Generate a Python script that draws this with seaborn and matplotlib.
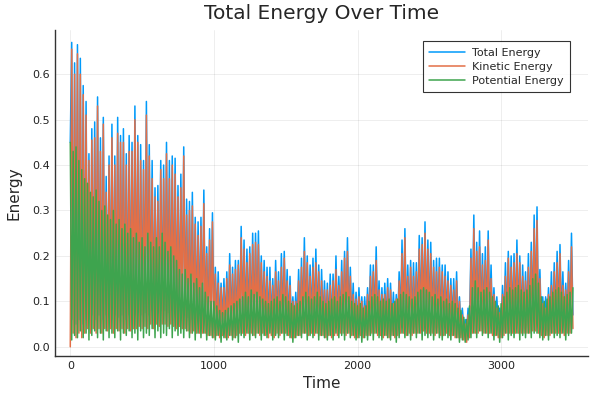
import numpy as np
import pandas as pd
import matplotlib
matplotlib.use("Agg")
import matplotlib.pyplot as plt
import seaborn as sns

# time axis, one sample every 10 time units (0 ... 3500)
time = np.arange(0, 3501, 10)

# total energy (rows of 100 time units)
total = [
    0.45, 0.67, 0.06, 0.625, 0.05, 0.665, 0.06, 0.635, 0.05, 0.575,
    0.06, 0.54, 0.07, 0.425, 0.06, 0.48, 0.07, 0.495, 0.06, 0.55,
    0.07, 0.46, 0.06, 0.505, 0.07, 0.375, 0.065, 0.42, 0.07, 0.49,
    0.06, 0.42, 0.07, 0.505, 0.065, 0.465, 0.07, 0.48, 0.06, 0.425,
    0.07, 0.465, 0.065, 0.45, 0.07, 0.53, 0.07, 0.465, 0.075, 0.445,
    0.07, 0.41, 0.075, 0.54, 0.07, 0.445, 0.08, 0.41, 0.07, 0.35,
    0.08, 0.355, 0.075, 0.41, 0.08, 0.40, 0.08, 0.45, 0.075, 0.41,
    0.08, 0.42, 0.075, 0.415, 0.07, 0.355, 0.075, 0.38, 0.07, 0.44,
    0.07, 0.325, 0.065, 0.32, 0.06, 0.34, 0.065, 0.285, 0.06, 0.275,
    0.06, 0.285, 0.06, 0.345, 0.06, 0.22, 0.055, 0.26, 0.055, 0.295,
    0.05, 0.175, 0.055, 0.165, 0.05, 0.14, 0.055, 0.15, 0.05, 0.165,
    0.05, 0.205, 0.055, 0.175, 0.05, 0.19, 0.055, 0.19, 0.06, 0.265,
    0.06, 0.235, 0.055, 0.215, 0.06, 0.22, 0.06, 0.25, 0.055, 0.25,
    0.06, 0.255, 0.055, 0.20, 0.06, 0.19, 0.055, 0.175, 0.05, 0.175,
    0.055, 0.15, 0.05, 0.19, 0.06, 0.165, 0.055, 0.205, 0.06, 0.21,
    0.06, 0.17, 0.055, 0.155, 0.05, 0.11, 0.05, 0.12, 0.055, 0.17,
    0.055, 0.195, 0.06, 0.24, 0.06, 0.20, 0.055, 0.18, 0.06, 0.195,
    0.055, 0.215, 0.06, 0.18, 0.055, 0.17, 0.055, 0.145, 0.05, 0.14,
    0.055, 0.16, 0.05, 0.16, 0.055, 0.20, 0.055, 0.155, 0.06, 0.19,
    0.06, 0.21, 0.055, 0.24, 0.06, 0.175, 0.055, 0.14, 0.05, 0.12,
    0.05, 0.13, 0.055, 0.11, 0.05, 0.11, 0.055, 0.13, 0.055, 0.18,
    0.06, 0.18, 0.06, 0.22, 0.055, 0.145, 0.055, 0.13, 0.05, 0.14,
    0.055, 0.15, 0.05, 0.14, 0.055, 0.12, 0.05, 0.115, 0.055, 0.165,
    0.06, 0.235, 0.06, 0.26, 0.055, 0.18, 0.06, 0.19, 0.055, 0.185,
    0.06, 0.185, 0.06, 0.245, 0.06, 0.24, 0.065, 0.275, 0.06, 0.235,
    0.06, 0.23, 0.06, 0.19, 0.055, 0.195, 0.06, 0.195, 0.055, 0.18,
    0.055, 0.18, 0.06, 0.165, 0.055, 0.15, 0.055, 0.15, 0.05, 0.165,
    0.045, 0.11, 0.045, 0.085, 0.04, 0.06, 0.035, 0.085, 0.05, 0.215,
    0.06, 0.29, 0.06, 0.23, 0.06, 0.255, 0.065, 0.205, 0.06, 0.22,
    0.06, 0.255, 0.06, 0.18, 0.055, 0.13, 0.055, 0.11, 0.05, 0.085,
    0.05, 0.135, 0.055, 0.185, 0.06, 0.21, 0.06, 0.20, 0.06, 0.205,
    0.06, 0.235, 0.06, 0.20, 0.06, 0.18, 0.06, 0.165, 0.06, 0.205,
    0.06, 0.23, 0.065, 0.29, 0.065, 0.308, 0.06, 0.17, 0.055, 0.11,
    0.05, 0.11, 0.055, 0.13, 0.055, 0.165, 0.06, 0.185, 0.06, 0.21,
    0.06, 0.225, 0.06, 0.165, 0.055, 0.14, 0.06, 0.19, 0.06, 0.25,
    0.07,
]

# kinetic energy
kinetic = [
    0.00, 0.655, 0.03, 0.60, 0.02, 0.645, 0.03, 0.60, 0.02, 0.555,
    0.03, 0.51, 0.04, 0.41, 0.03, 0.455, 0.04, 0.46, 0.03, 0.53,
    0.04, 0.43, 0.03, 0.49, 0.04, 0.34, 0.035, 0.40, 0.04, 0.46,
    0.03, 0.40, 0.04, 0.47, 0.035, 0.45, 0.04, 0.45, 0.03, 0.40,
    0.04, 0.43, 0.035, 0.43, 0.04, 0.50, 0.04, 0.45, 0.045, 0.41,
    0.04, 0.39, 0.045, 0.51, 0.04, 0.42, 0.05, 0.37, 0.04, 0.33,
    0.05, 0.32, 0.045, 0.39, 0.05, 0.37, 0.05, 0.425, 0.045, 0.37,
    0.05, 0.40, 0.045, 0.38, 0.04, 0.33, 0.045, 0.35, 0.04, 0.42,
    0.04, 0.29, 0.035, 0.30, 0.03, 0.31, 0.035, 0.27, 0.03, 0.245,
    0.03, 0.265, 0.03, 0.315, 0.03, 0.205, 0.025, 0.235, 0.025, 0.275,
    0.02, 0.16, 0.025, 0.14, 0.02, 0.13, 0.025, 0.13, 0.02, 0.15,
    0.02, 0.18, 0.025, 0.16, 0.02, 0.17, 0.025, 0.18, 0.03, 0.24,
    0.03, 0.215, 0.025, 0.185, 0.03, 0.205, 0.03, 0.225, 0.025, 0.23,
    0.03, 0.225, 0.025, 0.185, 0.03, 0.165, 0.025, 0.155, 0.02, 0.145,
    0.025, 0.135, 0.02, 0.165, 0.03, 0.145, 0.025, 0.175, 0.03, 0.195,
    0.03, 0.145, 0.025, 0.135, 0.02, 0.10, 0.02, 0.10, 0.025, 0.145,
    0.025, 0.175, 0.03, 0.21, 0.03, 0.185, 0.025, 0.155, 0.03, 0.175,
    0.025, 0.185, 0.03, 0.165, 0.025, 0.145, 0.025, 0.125, 0.02, 0.125,
    0.025, 0.135, 0.02, 0.145, 0.025, 0.17, 0.025, 0.135, 0.03, 0.165,
    0.03, 0.195, 0.025, 0.21, 0.03, 0.155, 0.025, 0.115, 0.02, 0.105,
    0.02, 0.11, 0.025, 0.10, 0.02, 0.09, 0.025, 0.115, 0.025, 0.155,
    0.03, 0.165, 0.03, 0.19, 0.025, 0.125, 0.025, 0.115, 0.02, 0.115,
    0.025, 0.13, 0.02, 0.125, 0.025, 0.095, 0.02, 0.105, 0.025, 0.145,
    0.03, 0.205, 0.03, 0.24, 0.025, 0.155, 0.03, 0.175, 0.025, 0.155,
    0.03, 0.165, 0.03, 0.215, 0.03, 0.225, 0.035, 0.25, 0.03, 0.215,
    0.03, 0.205, 0.03, 0.175, 0.025, 0.165, 0.03, 0.175, 0.025, 0.165,
    0.025, 0.155, 0.03, 0.145, 0.025, 0.135, 0.025, 0.125, 0.02, 0.145,
    0.02, 0.10, 0.02, 0.07, 0.015, 0.05, 0.01, 0.07, 0.02, 0.195,
    0.03, 0.26, 0.03, 0.21, 0.03, 0.22, 0.035, 0.18, 0.03, 0.19,
    0.03, 0.235, 0.03, 0.15, 0.025, 0.115, 0.025, 0.085, 0.02, 0.075,
    0.02, 0.115, 0.025, 0.155, 0.03, 0.195, 0.03, 0.175, 0.03, 0.185,
    0.03, 0.205, 0.03, 0.185, 0.03, 0.155, 0.03, 0.145, 0.03, 0.175,
    0.03, 0.21, 0.035, 0.26, 0.035, 0.278, 0.03, 0.15, 0.025, 0.095,
    0.02, 0.085, 0.025, 0.115, 0.025, 0.135, 0.03, 0.165, 0.03, 0.185,
    0.03, 0.205, 0.03, 0.135, 0.025, 0.125, 0.03, 0.165, 0.03, 0.22,
    0.04,
]

# potential energy
potential = [
    0.45, 0.015, 0.43, 0.025, 0.44, 0.02, 0.41, 0.035, 0.39, 0.02,
    0.37, 0.03, 0.36, 0.015, 0.34, 0.025, 0.33, 0.035, 0.345, 0.02,
    0.32, 0.03, 0.30, 0.015, 0.31, 0.035, 0.29, 0.02, 0.28, 0.03,
    0.30, 0.02, 0.27, 0.035, 0.28, 0.015, 0.26, 0.03, 0.27, 0.025,
    0.25, 0.035, 0.26, 0.02, 0.24, 0.03, 0.25, 0.015, 0.23, 0.035,
    0.24, 0.02, 0.22, 0.03, 0.25, 0.025, 0.23, 0.04, 0.22, 0.02,
    0.24, 0.035, 0.22, 0.02, 0.25, 0.03, 0.23, 0.025, 0.21, 0.04,
    0.22, 0.02, 0.20, 0.035, 0.19, 0.025, 0.17, 0.03, 0.16, 0.02,
    0.17, 0.035, 0.15, 0.02, 0.16, 0.03, 0.14, 0.015, 0.15, 0.03,
    0.13, 0.02, 0.14, 0.03, 0.12, 0.015, 0.11, 0.025, 0.10, 0.02,
    0.10, 0.015, 0.09, 0.025, 0.08, 0.01, 0.075, 0.02, 0.08, 0.015,
    0.085, 0.025, 0.09, 0.015, 0.095, 0.02, 0.10, 0.01, 0.105, 0.025,
    0.11, 0.02, 0.12, 0.03, 0.11, 0.015, 0.125, 0.025, 0.115, 0.02,
    0.12, 0.03, 0.11, 0.015, 0.105, 0.025, 0.10, 0.02, 0.095, 0.03,
    0.10, 0.015, 0.105, 0.025, 0.11, 0.02, 0.10, 0.03, 0.115, 0.015,
    0.11, 0.025, 0.10, 0.02, 0.095, 0.01, 0.09, 0.02, 0.095, 0.025,
    0.10, 0.02, 0.11, 0.03, 0.12, 0.015, 0.11, 0.025, 0.105, 0.02,
    0.11, 0.03, 0.12, 0.015, 0.11, 0.025, 0.10, 0.02, 0.095, 0.015,
    0.10, 0.025, 0.105, 0.015, 0.11, 0.03, 0.10, 0.02, 0.11, 0.025,
    0.115, 0.015, 0.12, 0.03, 0.11, 0.02, 0.10, 0.025, 0.095, 0.015,
    0.09, 0.02, 0.095, 0.01, 0.085, 0.02, 0.09, 0.015, 0.10, 0.025,
    0.11, 0.015, 0.115, 0.03, 0.11, 0.02, 0.10, 0.015, 0.105, 0.025,
    0.10, 0.02, 0.105, 0.015, 0.095, 0.025, 0.10, 0.01, 0.105, 0.02,
    0.115, 0.03, 0.12, 0.02, 0.115, 0.025, 0.11, 0.015, 0.105, 0.03,
    0.11, 0.02, 0.12, 0.03, 0.125, 0.015, 0.13, 0.025, 0.125, 0.02,
    0.12, 0.025, 0.11, 0.015, 0.115, 0.03, 0.105, 0.02, 0.11, 0.015,
    0.10, 0.025, 0.105, 0.02, 0.095, 0.015, 0.10, 0.025, 0.095, 0.02,
    0.085, 0.01, 0.08, 0.015, 0.065, 0.01, 0.06, 0.015, 0.09, 0.02,
    0.13, 0.03, 0.145, 0.02, 0.13, 0.035, 0.12, 0.025, 0.125, 0.03,
    0.13, 0.02, 0.12, 0.03, 0.11, 0.015, 0.10, 0.025, 0.09, 0.01,
    0.095, 0.02, 0.11, 0.03, 0.12, 0.015, 0.13, 0.025, 0.125, 0.02,
    0.13, 0.03, 0.135, 0.015, 0.125, 0.025, 0.12, 0.02, 0.125, 0.03,
    0.135, 0.02, 0.15, 0.03, 0.16, 0.03, 0.14, 0.02, 0.11, 0.015,
    0.10, 0.025, 0.105, 0.015, 0.11, 0.03, 0.12, 0.02, 0.125, 0.025,
    0.13, 0.02, 0.12, 0.03, 0.11, 0.015, 0.115, 0.025, 0.12, 0.03,
    0.13,
]

series_names = ["Total Energy", "Kinetic Energy", "Potential Energy"]
colors = ["#009AFA", "#E36F47", "#3EA44E"]

df = pd.concat([
    pd.DataFrame({"Time": time, "Energy": total, "series": series_names[0]}),
    pd.DataFrame({"Time": time, "Energy": kinetic, "series": series_names[1]}),
    pd.DataFrame({"Time": time, "Energy": potential, "series": series_names[2]}),
])

sns.set_style("white")
plt.rcParams['font.family'] = ['DejaVu Sans']

fig = plt.figure(figsize=(6, 4), dpi=100)
ax = fig.add_axes([0.092, 0.11, 0.888, 0.815])

sns.lineplot(data=df, x="Time", y="Energy", hue="series", hue_order=series_names,
             palette=dict(zip(series_names, colors)), linewidth=1.1,
             estimator=None, sort=False, ax=ax)

ax.set_xlim(-105, 3605)
ax.set_ylim(-0.0203, 0.6973)
ax.set_xticks([0, 1000, 2000, 3000])
ax.set_yticks([0.0, 0.1, 0.2, 0.3, 0.4, 0.5, 0.6])
ax.set_yticklabels(["0.0", "0.1", "0.2", "0.3", "0.4", "0.5", "0.6"])
ax.grid(True, color="#000000", alpha=0.08, linewidth=0.6)
ax.tick_params(direction="in", length=4, width=0.8, labelsize=8, colors="#222222")
for side in ["top", "right"]:
    ax.spines[side].set_visible(False)
for side in ["left", "bottom"]:
    ax.spines[side].set_color("#333333")
    ax.spines[side].set_linewidth(1)

ax.set_xlabel("Time", fontsize=11)
ax.set_ylabel("Energy", fontsize=11, labelpad=8)
ax.set_title("Total Energy Over Time", fontsize=14.5, pad=8)

handles, labels = ax.get_legend_handles_labels()
leg = ax.legend(handles, labels, loc="upper right", bbox_to_anchor=(0.966, 0.966),
                borderaxespad=0, fontsize=8, frameon=True, fancybox=False,
                edgecolor="black", handlelength=3.2, handletextpad=0.6,
                labelspacing=0.35, borderpad=0.6)
leg.get_frame().set_linewidth(0.8)

fig.savefig("out.png", dpi=100)
